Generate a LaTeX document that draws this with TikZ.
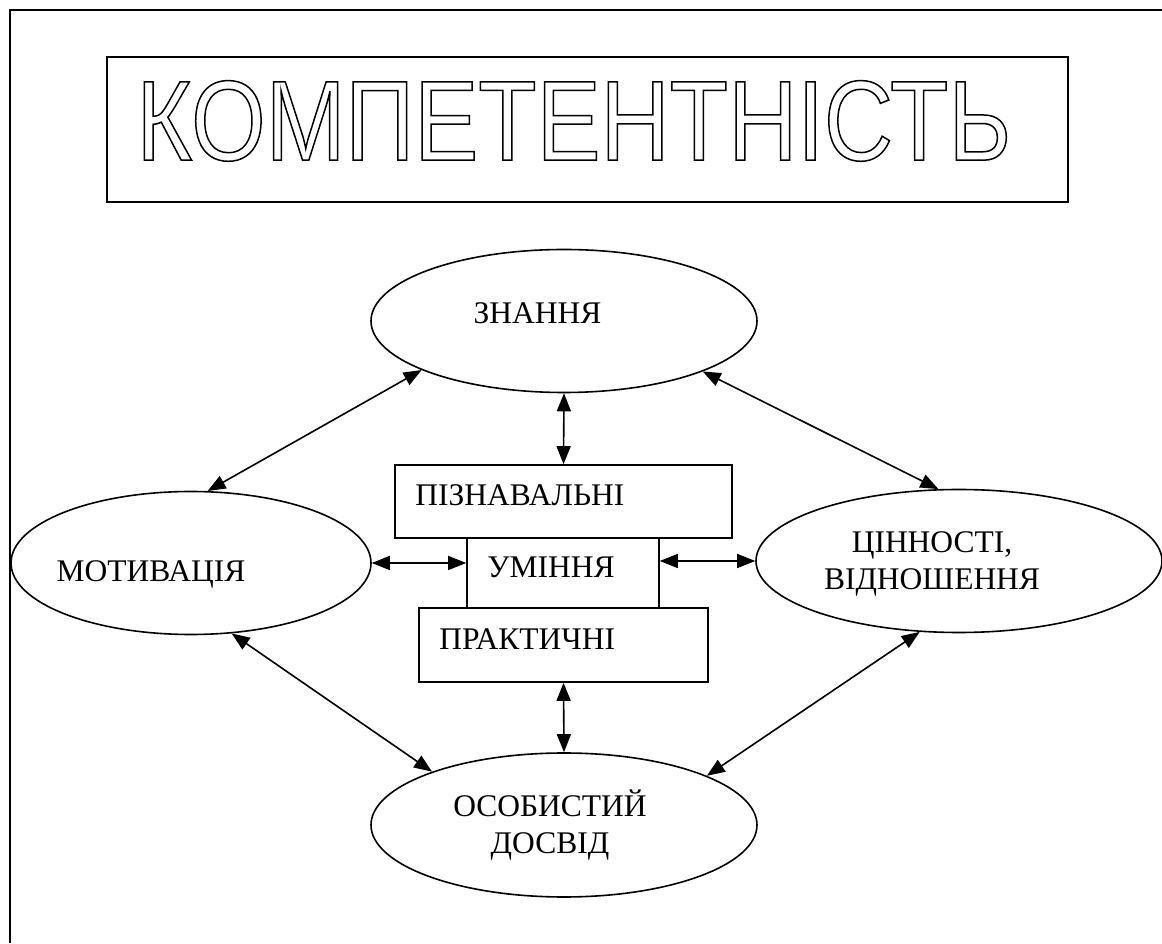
\documentclass[tikz,border=0pt]{standalone}
\usepackage{fontspec}
\setmainfont{Liberation Serif}
\newfontfamily\titlefont[FakeStretch=0.84]{Liberation Sans}
\usetikzlibrary{shapes.geometric,arrows.meta,positioning}

\newcommand{\hollowtext}[1]{\special{pdf:literal direct 1 Tr 1.5 w}#1\special{pdf:literal direct 0 Tr}}

\tikzset{
  oval/.style={draw,ellipse,line width=1.6pt,inner sep=0pt,minimum height=143pt},
  box/.style={draw,rectangle,line width=1.6pt,inner sep=0pt},
  lbl/.style={inner sep=0pt,align=center,font=\fontsize{31.5}{37}\selectfont},
  biarrow/.style={{Triangle[length=18pt,width=14pt]}-{Triangle[length=18pt,width=14pt]},line width=1.6pt}
}

\begin{document}
\begin{tikzpicture}[x=1pt,y=1pt]
    \useasboundingbox (0,0) rectangle (1162,943);
    \draw[line width=2pt] (10,0) -- (10,933) -- (1162,933);

    \node[box,minimum width=961pt,minimum height=145pt,
          label={[inner sep=0pt,anchor=base west,shift={(30,-104)},font=\titlefont\fontsize{114}{114}\selectfont]north west:{\hollowtext{КОМПЕТЕНТНІСТЬ}}}]
          (title) at (587.5,813.5) {};

    \node[oval,minimum width=386pt,label={[lbl,anchor=base,shift={(-26.5,8)}]center:ЗНАННЯ}] (znan) at (564,622) {};
    \node[oval,minimum width=360pt,label={[lbl,anchor=base,shift={(-40,-11)}]center:МОТИВАЦІЯ}] (motiv) at (191,380) {};
    \node[oval,minimum width=406pt,label={[lbl,shift={(-27,-3)}]center:ЦІННОСТІ,\\ВІДНОШЕННЯ}] (cinn) at (959,382) {};
    \node[oval,minimum width=386pt,minimum height=144pt,label={[lbl,shift={(-14,0)}]center:ОСОБИСТИЙ\\ДОСВІД}] (osob) at (564,118) {};

    \node[box,minimum width=337pt,minimum height=73pt,label={[lbl,anchor=base west,shift={(21,-41)}]north west:ПІЗНАВАЛЬНІ}] (pizn) at (563.5,441.5) {};
    \node[box,minimum width=192pt,minimum height=70pt,label={[lbl,anchor=base west,shift={(21,-40)}]north west:УМІННЯ}] (umin) at (563,370) {};
    \node[box,minimum width=289pt,minimum height=74pt,label={[lbl,anchor=base west,shift={(21,-42)}]north west:ПРАКТИЧНІ}] (prakt) at (563.5,298) {};

    \draw[biarrow] (znan.south) -- (pizn.north);
    \draw[biarrow] (prakt.south) -- (osob.north);
    \draw[biarrow] (motiv.east) -- (motiv.east -| umin.west);
    \draw[biarrow] (cinn.west -| umin.east) -- (cinn.west);
    \draw[biarrow] (znan.199) -- (motiv.77);
    \draw[biarrow] (znan.340) -- (cinn.106);
    \draw[biarrow] (motiv.300) -- (osob.158);
    \draw[biarrow] (cinn.241) -- (osob.19);
\end{tikzpicture}
\end{document}
